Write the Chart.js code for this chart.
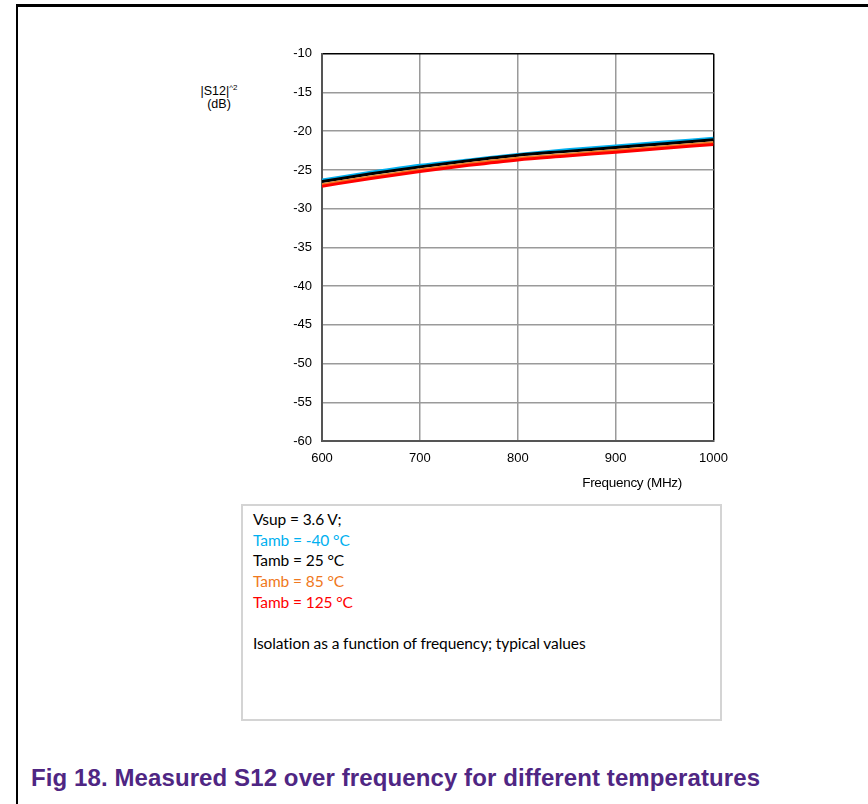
<!DOCTYPE html>
<html lang="en">
<head>
<script src="https://cdn.jsdelivr.net/npm/chart.js"></script>
<style>
  body { margin: 0; background: #fff; width: 868px; height: 804px; position: relative; overflow: hidden; font-family: "Liberation Sans", Arial, sans-serif; }
  .frame { position: absolute; left: 16px; top: 4px; width: 900px; height: 900px; border-left: 2px solid #000; border-top: 3px solid #000; }
  .chartbox { position: absolute; left: 262px; top: 36px; width: 476px; height: 444px; }
  .ytitle { position: absolute; left: 190px; top: 85px; width: 58px; text-align: center; font-size: 12.5px; line-height: 13px; color: #000; }
  .ytitle sup { font-size: 8px; vertical-align: 5px; line-height: 0; }
  .xtitle { position: absolute; left: 540px; top: 475px; width: 142px; text-align: right; font-size: 13.5px; color: #000; letter-spacing: -0.3px; }
  .note { position: absolute; left: 241px; top: 504px; width: 481px; height: 217px; border: 2px solid #d4d4d4; font-family: Lato, "Open Sans", sans-serif; font-size: 15.5px; line-height: 20.7px; padding: 3px 0 0 10px; box-sizing: border-box; letter-spacing: -0.1px; }
  .note div { height: 20.7px; }
  .caption { position: absolute; left: 31px; top: 764px; font-size: 24px; font-weight: bold; color: #4F2683; white-space: nowrap; letter-spacing: 0.1px; }
</style>
</head>
<body>
  <div class="frame"></div>
  <div class="ytitle">|S12|<sup>^2</sup><br>(dB)</div>
  <div class="chartbox"><canvas id="s12Chart" width="476" height="444"></canvas></div>
  <div class="xtitle">Frequency (MHz)</div>
  <div class="note">
    <div>Vsup = 3.6 V;</div>
    <div style="color:#00B0F0">Tamb = -40 °C</div>
    <div>Tamb = 25 °C</div>
    <div style="color:#F07820">Tamb = 85 °C</div>
    <div style="color:#FF0000">Tamb = 125 °C</div>
    <div></div>
    <div>Isolation as a function of frequency; typical values</div>
  </div>
  <div class="caption">Fig 18. Measured S12 over frequency for different temperatures</div>

<script>
    // frequency points (MHz) and |S12|^2 (dB) for each temperature
    const freqs = [600, 650, 700, 750, 800, 850, 900, 950, 1000];
    const s12_m40 = [-26.3, -25.3, -24.4, -23.7, -23.0, -22.4, -21.9, -21.4, -20.9];
    const s12_25 = [-26.5, -25.5, -24.6, -23.8, -23.1, -22.6, -22.1, -21.6, -21.1];
    const s12_85 = [-26.9, -25.9, -25.0, -24.2, -23.5, -23.0, -22.5, -22.0, -21.5];
    const s12_125 = [-27.1, -26.1, -25.2, -24.4, -23.7, -23.2, -22.7, -22.2, -21.7];
    const xTicks = [600, 700, 800, 900, 1000];
    const yTicks = [-10, -15, -20, -25, -30, -35, -40, -45, -50, -55, -60];

    function pts(vals) {
      return freqs.map((f, i) => ({ x: f, y: vals[i] }));
    }

    const ctx = document.getElementById('s12Chart');

    new Chart(ctx, {
      type: 'line',
      data: {
        datasets: [
          { label: 'Tamb = -40 °C', data: pts(s12_m40), borderColor: '#00B0F0', borderWidth: 3, order: 4 },
          { label: 'Tamb = 25 °C', data: pts(s12_25), borderColor: '#000000', borderWidth: 3, order: 3 },
          { label: 'Tamb = 85 °C', data: pts(s12_85), borderColor: '#F07820', borderWidth: 3, order: 2 },
          { label: 'Tamb = 125 °C', data: pts(s12_125), borderColor: '#FF0000', borderWidth: 3, order: 1 }
        ]
      },
      options: {
        responsive: false,
        animation: false,
        events: [],
        elements: { point: { radius: 0 }, line: { tension: 0.4, cubicInterpolationMode: 'monotone' } },
        layout: { padding: { top: 12, right: 18, left: 0, bottom: 0 } },
        plugins: { legend: { display: false }, tooltip: { enabled: false } },
        scales: {
          x: {
            type: 'linear',
            min: 600, max: 1000,
            afterBuildTicks: s => { s.ticks = xTicks.map(v => ({ value: v })); },
            afterFit: s => { s.height = 39; },
            border: { color: '#555', width: 2 },
            grid: {
              color: c => c.tick && c.tick.value === 1000 ? '#000' : '#9a9a9a',
              lineWidth: 1.5,
              drawTicks: false
            },
            ticks: { color: '#000', font: { family: 'Liberation Sans', size: 13 }, padding: 10, maxRotation: 0, callback: v => String(v) }
          },
          y: {
            type: 'linear',
            min: -60, max: -10,
            afterBuildTicks: s => { s.ticks = yTicks.map(v => ({ value: v })); },
            afterFit: s => { s.width = 60; },
            border: { color: '#555', width: 2 },
            grid: {
              color: c => c.tick && c.tick.value === -10 ? '#000' : '#9a9a9a',
              lineWidth: 1.5,
              drawTicks: false
            },
            ticks: { color: '#000', font: { family: 'Liberation Sans', size: 13 }, padding: 10, callback: v => String(v) }
          }
        }
      }
    });
</script>
</body>
</html>
